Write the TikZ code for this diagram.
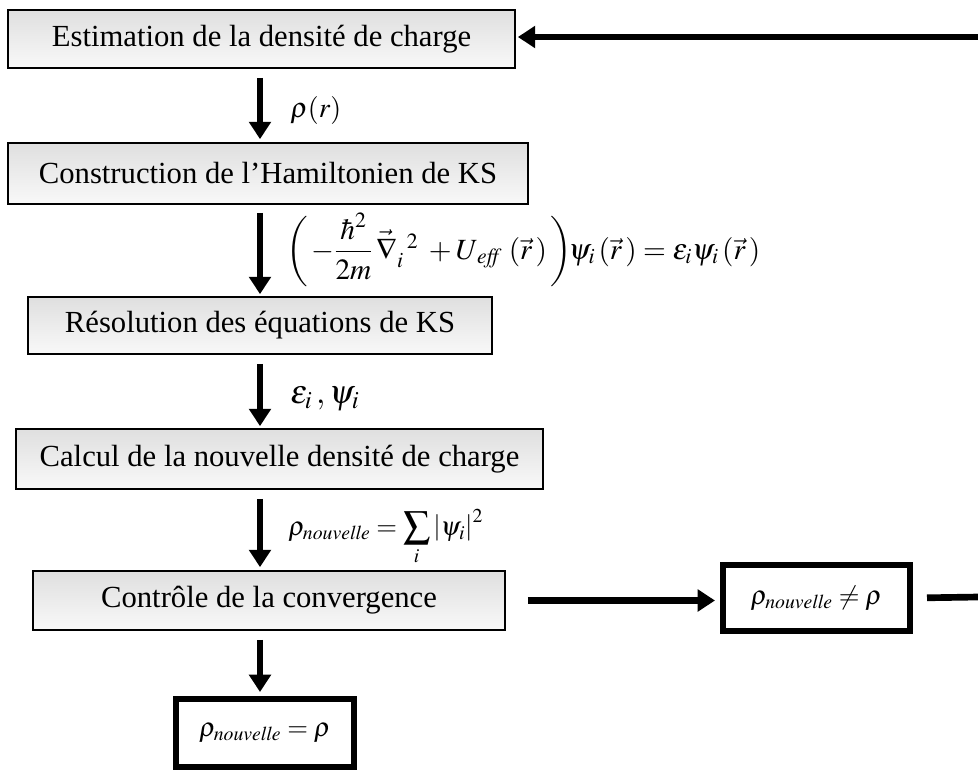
\documentclass[tikz,border=0pt]{standalone}
\usepackage{amsmath}
\usepackage{mathptmx}
\usepackage{fontspec}
\setmainfont{Liberation Serif}
\usetikzlibrary{arrows.meta,calc}
\tikzset{
  stepbox/.style={draw=black, line width=1.3pt, top color=gray!25, bottom color=gray!5,
    inner sep=0pt, font=\fontsize{23}{26}\selectfont},
  resbox/.style={draw=black, line width=4.5pt, fill=white, inner sep=0pt,
    font=\fontsize{20}{24}\selectfont},
  arr/.style={line width=5pt, -{Triangle[width=16pt,length=13pt]}},
  lbl/.style={inner sep=0pt, anchor=base west},
}
\begin{document}
\begin{tikzpicture}[x=0.75pt,y=-0.75pt]
\useasboundingbox (0,0) rectangle (978,772);
\node[stepbox, minimum width=507*0.75pt, minimum height=58*0.75pt] (b1) at (261.5,39) {Estimation de la densité de charge};
\node[stepbox, minimum width=520*0.75pt, minimum height=61*0.75pt] (b2) at (268,173.5) {Construction de l’Hamiltonien de KS};
\node[stepbox, minimum width=464*0.75pt, minimum height=57*0.75pt] (b3) at (260,325.5) {Résolution des équations de KS};
\node[stepbox, minimum width=527*0.75pt, minimum height=60*0.75pt] (b4) at (279.5,459) {Calcul de la nouvelle densité de charge};
\node[stepbox, minimum width=472*0.75pt, minimum height=59*0.75pt] (b5) at (269,600.5) {Contrôle de la convergence};
\node[resbox, minimum width=187*0.75pt, minimum height=66*0.75pt] (b6) at (816.5,598) {$\rho_{\mathit{nouvelle}}\neq\rho$};
\node[resbox, minimum width=178*0.75pt, minimum height=68*0.75pt] (b7) at (265,733) {$\rho_{\mathit{nouvelle}}=\rho$};

\coordinate (ax) at (260,0);
\coordinate (rtop) at (978,37);
\coordinate (rbot) at (978,597);

\draw[arr, shorten <=9*0.75pt, shorten >=3*0.75pt] (b1.south -| ax) -- (b2.north -| ax);
\draw[arr, shorten <=8*0.75pt, shorten >=2*0.75pt] (b2.south -| ax) -- (b3.north -| ax);
\draw[arr, shorten <=9*0.75pt, shorten >=2*0.75pt] (b3.south -| ax) -- (b4.north -| ax);
\draw[arr, shorten <=9*0.75pt, shorten >=3*0.75pt] (b4.south -| ax) -- (b5.north -| ax);
\draw[arr, shorten <=9*0.75pt, shorten >=4*0.75pt] (b5.south -| ax) -- (b7.north -| ax);
\draw[arr, shorten <=22*0.75pt, shorten >=5*0.75pt] (b5.east) -- (b6.west |- b5.east);
\draw[line width=5pt, shorten <=14*0.75pt] (b6.east) -- (rbot);
\draw[arr, shorten >=2*0.75pt] (rtop) -- (b1.east |- rtop);

\node[lbl, font=\fontsize{21}{24}\selectfont] (l1) at (290,117) {$\rho(r)$};
\node[lbl, font=\fontsize{22}{26}\selectfont] (l2) at (286,259)
  {$\biggl(\,-\dfrac{\hbar^{2}}{2m}\,\vec{\nabla}_{i}^{\;\;2}\;+U_{\,\mathit{eff}}\;(\vec{r}\,)\,\biggr)\mkern-2mu\psi_{i}\,(\vec{r}\,)=\varepsilon_{i}\psi_{i}\,(\vec{r}\,)$};
\node[lbl, font=\fontsize{25}{28}\selectfont] (l3) at (290,403) {$\varepsilon_{i}\,,\psi_{i}$};
\node[lbl, font=\fontsize{20}{23}\selectfont] (l4) at (288,535) {$\rho_{\mathit{nouvelle}}=\displaystyle\sum_{i}\left|\psi_{i}\right|^{2}$};
\end{tikzpicture}
\end{document}
